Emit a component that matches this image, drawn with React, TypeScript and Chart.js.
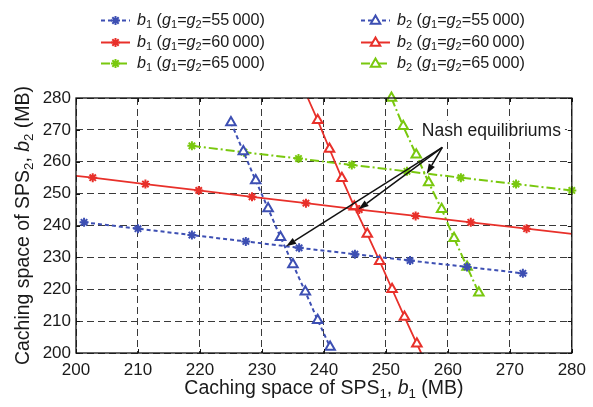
import React, { useEffect, useRef } from 'react';
import { Chart, registerables } from 'chart.js';

Chart.register(...registerables);

const FONT = '"Liberation Sans", Arial, Helvetica, sans-serif';
const TEXT = '#1a1a1a';
const BLUE = '#3d4fb3';
const RED = '#e8302a';
const GREEN = '#79c80e';

// axis ticks
const xTickValues = [200, 210, 220, 230, 240, 250, 260, 270, 280];
const yTickValues = [200, 210, 220, 230, 240, 250, 260, 270, 280];

// b1 best response, g1=g2=55000 (x: b1, y: b2)
const b1_55_x = [201.3, 210, 218.7, 227.4, 236, 245, 253.9, 263.1, 272.1];
const b1_55_y = [241, 239, 237, 235, 233, 231, 229, 227, 225];
// b2 best response, g1=g2=55000
const b2_55_x = [225, 227, 229, 231, 233, 235, 237, 239, 241];
const b2_55_y = [272.3, 263.2, 254.1, 245.3, 236.3, 227.8, 219.2, 210.3, 201.9];

// g1=g2=60000 (line extends to the axes at both ends)
const b1_60_x = [200, 202.7, 211.2, 219.8, 228.4, 237.1, 245.7, 254.8, 263.7, 272.7, 280];
const b1_60_y = [255.6, 255, 253, 251, 249, 247, 245, 243, 241, 239, 237.4];
const b2_60_x = [237.4, 239, 240.9, 242.9, 244.9, 247, 249, 251, 253, 255, 255.7];
const b2_60_y = [280, 273, 264, 254.8, 245.9, 237.3, 228.8, 220, 211.3, 202.9, 200];

// g1=g2=65000
const b1_65_x = [218.7, 227.1, 235.9, 244.5, 253.4, 262.1, 271, 280];
const b1_65_y = [265, 263, 261, 259, 257, 255, 253, 251];
const b2_65_x = [250.9, 252.8, 254.9, 256.9, 259, 261, 263.1, 265];
const b2_65_y = [280, 271.1, 262.2, 253.5, 245.1, 236, 227, 218.9];

// Nash equilibria (arrow targets) and annotation
const nashB1 = [233.9, 245.6, 256.6];
const nashB2 = [233.5, 245.1, 256.2];
const nashLabel = 'Nash equilibriums';
const nashLabelAt = [255.8, 269.8];
const nashArrowFrom = [259.1, 264.5];

const legendLabels = ['55\u2009000', '60\u2009000', '65\u2009000'];

const pts = (xs: number[], ys: number[]) => xs.map((x, i) => ({ x, y: ys[i] }));
const radii = (n: number, r: number, endsHidden: boolean) =>
  Array.from({ length: n }, (_, i) => (endsHidden && (i === 0 || i === n - 1) ? 0 : r));

type Seg = { t: string; it?: boolean; sub?: boolean };

function richWidth(ctx: CanvasRenderingContext2D, segs: Seg[], size: number) {
  let w = 0;
  for (const s of segs) {
    const fs = s.sub ? size * 0.68 : size;
    ctx.font = `${s.it ? 'italic ' : ''}${fs}px ${FONT}`;
    w += ctx.measureText(s.t).width;
  }
  return w;
}

function drawRich(ctx: CanvasRenderingContext2D, segs: Seg[], x: number, y: number, size: number) {
  ctx.textBaseline = 'middle';
  ctx.textAlign = 'left';
  let cx = x;
  for (const s of segs) {
    const fs = s.sub ? size * 0.68 : size;
    ctx.font = `${s.it ? 'italic ' : ''}${fs}px ${FONT}`;
    ctx.fillText(s.t, cx, s.sub ? y + size * 0.3 : y);
    cx += ctx.measureText(s.t).width;
  }
}

function drawStar(ctx: CanvasRenderingContext2D, x: number, y: number, r: number, color: string) {
  ctx.save();
  ctx.setLineDash([]);
  ctx.strokeStyle = color;
  ctx.lineWidth = 2;
  ctx.beginPath();
  const d = r * Math.SQRT1_2;
  ctx.moveTo(x - r, y); ctx.lineTo(x + r, y);
  ctx.moveTo(x, y - r); ctx.lineTo(x, y + r);
  ctx.moveTo(x - d, y - d); ctx.lineTo(x + d, y + d);
  ctx.moveTo(x - d, y + d); ctx.lineTo(x + d, y - d);
  ctx.stroke();
  ctx.restore();
}

function drawTri(ctx: CanvasRenderingContext2D, x: number, y: number, r: number, color: string) {
  ctx.save();
  ctx.setLineDash([]);
  ctx.strokeStyle = color;
  ctx.fillStyle = '#fff';
  ctx.lineWidth = 2;
  ctx.beginPath();
  ctx.moveTo(x, y - r);
  ctx.lineTo(x + r * 0.866, y + r * 0.5);
  ctx.lineTo(x - r * 0.866, y + r * 0.5);
  ctx.closePath();
  ctx.fill();
  ctx.stroke();
  ctx.restore();
}

const DASH_BLUE = [4, 3];
const DASH_GREEN = [9, 3, 2, 3];

const decorPlugin = {
  id: 'decor',
  afterDatasetsDraw(chart: any) {
    const ctx: CanvasRenderingContext2D = chart.ctx;
    const xs = chart.scales.x;
    const ys = chart.scales.y;
    const { left, right, top, bottom } = chart.chartArea;
    ctx.save();
    // annotation box + text
    const tx = xs.getPixelForValue(nashLabelAt[0]);
    const ty = ys.getPixelForValue(nashLabelAt[1]);
    ctx.font = `17.5px ${FONT}`;
    const tw = ctx.measureText(nashLabel).width;
    ctx.fillStyle = '#fff';
    ctx.fillRect(tx - 6, ty - 10, tw + 10, 21);
    ctx.fillStyle = TEXT;
    ctx.textBaseline = 'middle';
    ctx.textAlign = 'left';
    ctx.fillText(nashLabel, tx, ty + 1);
    // arrows
    const fx = xs.getPixelForValue(nashArrowFrom[0]);
    const fy = ys.getPixelForValue(nashArrowFrom[1]);
    ctx.strokeStyle = '#111';
    ctx.fillStyle = '#111';
    ctx.lineWidth = 1.5;
    for (let i = 0; i < nashB1.length; i++) {
      const px = xs.getPixelForValue(nashB1[i]);
      const py = ys.getPixelForValue(nashB2[i]);
      const ang = Math.atan2(py - fy, px - fx);
      const L = 10, W = 3.5;
      const bx = px - L * Math.cos(ang), by = py - L * Math.sin(ang);
      ctx.beginPath();
      ctx.moveTo(fx, fy);
      ctx.lineTo(bx, by);
      ctx.stroke();
      ctx.beginPath();
      ctx.moveTo(px, py);
      ctx.lineTo(bx + W * Math.sin(ang), by - W * Math.cos(ang));
      ctx.lineTo(bx - W * Math.sin(ang), by + W * Math.cos(ang));
      ctx.closePath();
      ctx.fill();
    }
    ctx.restore();
  },
  afterDraw(chart: any) {
    const ctx: CanvasRenderingContext2D = chart.ctx;
    const xs = chart.scales.x;
    const ys = chart.scales.y;
    const { left, right, top, bottom } = chart.chartArea;
    ctx.save();
    ctx.setLineDash([]);
    ctx.strokeStyle = '#111';
    ctx.lineWidth = 1.3;
    ctx.strokeRect(left, top, right - left, bottom - top);
    ctx.lineWidth = 1;
    ctx.beginPath();
    for (const v of xTickValues) {
      const p = Math.round(xs.getPixelForValue(v)) + 0.5;
      ctx.moveTo(p, bottom); ctx.lineTo(p, bottom - 4);
      ctx.moveTo(p, top); ctx.lineTo(p, top + 4);
    }
    for (const v of yTickValues) {
      const p = Math.round(ys.getPixelForValue(v)) + 0.5;
      ctx.moveTo(left, p); ctx.lineTo(left + 4, p);
      ctx.moveTo(right, p); ctx.lineTo(right - 4, p);
    }
    ctx.stroke();

    // axis titles
    ctx.fillStyle = TEXT;
    const tsize = 19.5;
    const xt: Seg[] = [
      { t: 'Caching space of SPS' }, { t: '1', sub: true }, { t: ', ' },
      { t: 'b', it: true }, { t: '1', sub: true }, { t: ' (MB)' },
    ];
    const xw = richWidth(ctx, xt, tsize);
    drawRich(ctx, xt, (left + right) / 2 - xw / 2, 389, tsize);
    const yt: Seg[] = [
      { t: 'Caching space of SPS' }, { t: '2', sub: true }, { t: ', ' },
      { t: 'b', it: true }, { t: '2', sub: true }, { t: ' (MB)' },
    ];
    const yw = richWidth(ctx, yt, tsize);
    ctx.save();
    ctx.translate(24, (top + bottom) / 2);
    ctx.rotate(-Math.PI / 2);
    drawRich(ctx, yt, -yw / 2, 0, tsize);
    ctx.restore();

    // legend
    const lsize = 16.2;
    const rows = [20.5, 42.5, 63.5];
    const cols = [
      { x1: 101, x2: 130, tx: 137, sym: 'b', kind: 'star' },
      { x1: 361, x2: 390, tx: 397, sym: 'b', kind: 'tri' },
    ];
    const colors = [BLUE, RED, GREEN];
    const dashes = [DASH_BLUE, [], DASH_GREEN];
    cols.forEach((c, ci) => {
      rows.forEach((ry, ri) => {
        ctx.save();
        ctx.strokeStyle = colors[ri];
        ctx.lineWidth = ri === 1 ? 2 : 2;
        ctx.setLineDash(dashes[ri]);
        ctx.beginPath();
        ctx.moveTo(c.x1, ry);
        ctx.lineTo(c.x2, ry);
        ctx.stroke();
        ctx.restore();
        const mx = (c.x1 + c.x2) / 2;
        if (c.kind === 'star') drawStar(ctx, mx, ry, 4.5, colors[ri]);
        else drawTri(ctx, mx, ry + 0.5, 5.5, colors[ri]);
        ctx.fillStyle = TEXT;
        const idx = ci === 0 ? '1' : '2';
        const segs: Seg[] = [
          { t: 'b', it: true }, { t: idx, sub: true }, { t: ' (' },
          { t: 'g', it: true }, { t: '1', sub: true }, { t: '=' },
          { t: 'g', it: true }, { t: '2', sub: true }, { t: '=' + legendLabels[ri] + ')' },
        ];
        drawRich(ctx, segs, c.tx, ry, lsize);
      });
    });
    ctx.restore();
  },
};

export default function App() {
  const ref = useRef<HTMLCanvasElement | null>(null);
  useEffect(() => {
    if (!ref.current) return;
    const mk = (label: string, xs: number[], ys: number[], color: string, dash: number[], kind: string, endsHidden = false, width = 2) => ({
      label,
      data: pts(xs, ys),
      showLine: true,
      borderColor: color,
      backgroundColor: kind === 'triangle' ? '#ffffff' : color,
      borderWidth: width,
      borderDash: dash,
      pointStyle: kind,
      pointRadius: radii(xs.length, kind === 'triangle' ? 5.5 : 4.5, endsHidden),
      pointBorderWidth: 2,
      pointBorderColor: color,
      pointBackgroundColor: kind === 'triangle' ? '#ffffff' : color,
      clip: false as any,
      tension: 0,
    });
    const chart = new Chart(ref.current, {
      type: 'scatter',
      data: {
        datasets: [
          mk('b1 55000', b1_55_x, b1_55_y, BLUE, DASH_BLUE, 'star'),
          mk('b2 55000', b2_55_x, b2_55_y, BLUE, DASH_BLUE, 'triangle'),
          mk('b1 60000', b1_60_x, b1_60_y, RED, [], 'star', true, 1.8),
          mk('b2 60000', b2_60_x, b2_60_y, RED, [], 'triangle', true, 1.8),
          mk('b1 65000', b1_65_x, b1_65_y, GREEN, DASH_GREEN, 'star'),
          mk('b2 65000', b2_65_x, b2_65_y, GREEN, DASH_GREEN, 'triangle'),
        ] as any,
      },
      options: {
        animation: false,
        responsive: false,
        maintainAspectRatio: false,
        layout: { padding: { top: 98, right: 21, left: 0, bottom: 0 } },
        plugins: { legend: { display: false }, tooltip: { enabled: false }, title: { display: false } },
        scales: {
          x: {
            type: 'linear',
            min: 200,
            max: 280,
            afterFit: (s: any) => { s.height = 54; },
            afterBuildTicks: (s: any) => { s.ticks = xTickValues.map((v) => ({ value: v })); },
            ticks: { color: TEXT, font: { family: FONT, size: 17 }, padding: 7, maxRotation: 0 },
            grid: { color: '#3a3a3a', lineWidth: 1, drawTicks: false },
            border: { display: false, dash: [7, 4] },
          },
          y: {
            type: 'linear',
            min: 200,
            max: 280,
            afterFit: (s: any) => { s.width = 76; },
            afterBuildTicks: (s: any) => { s.ticks = yTickValues.map((v) => ({ value: v })); },
            ticks: { color: TEXT, font: { family: FONT, size: 17 }, padding: 5 },
            grid: { color: '#3a3a3a', lineWidth: 1, drawTicks: false },
            border: { display: false, dash: [7, 4] },
          },
        },
      },
      plugins: [decorPlugin],
    });
    return () => chart.destroy();
  }, []);
  return (
    <div style={{ position: 'fixed', left: 0, top: 0, width: 593, height: 407, background: '#fff' }}>
      <canvas ref={ref} width={593} height={407} style={{ width: 593, height: 407, display: 'block' }} />
    </div>
  );
}
